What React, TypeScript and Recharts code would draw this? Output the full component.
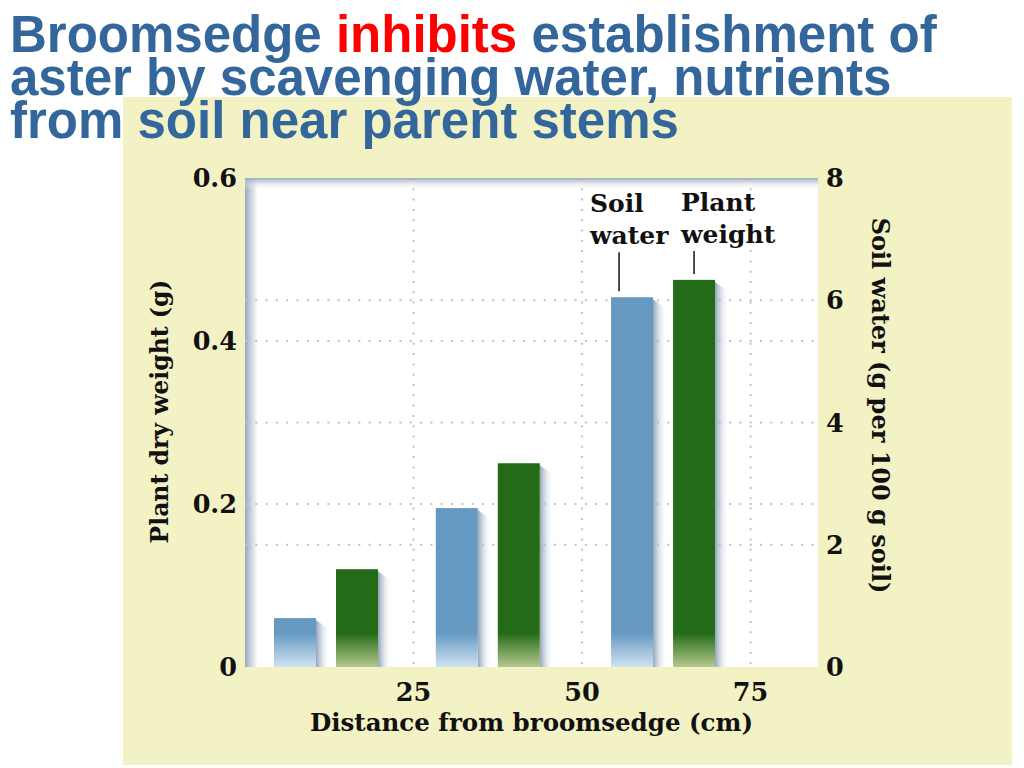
import { Bar, BarChart, CartesianGrid, Label, LabelList, XAxis, YAxis } from "recharts";

const distances = [12, 36, 62];
const soilWater = [0.8, 2.6, 6.05];
const plantWeight = [0.12, 0.25, 0.475];
const leftTicks = [0, 0.2, 0.4, 0.6];
const rightTicks = [0, 2, 4, 6, 8];
const xTicks = [25, 50, 75];

const data = distances.map((d, i) => ({
  distance: d,
  water: soilWater[i],
  plant: plantWeight[i],
}));

const SERIF = "'DejaVu Serif', serif";
const INK = "#111111";
const BLUE = "#6699c2";
const GREEN = "#246b17";
const CREAM = "#f2f2c4";

const tickStyle = { fill: INK, fontSize: 25.5, fontWeight: 700, fontFamily: SERIF };

function ShadedBar(props: any) {
  const { x, y, width, height, index, color, fade, name } = props;
  if (height == null || height <= 0) return null;
  const id = `fade-${name}-${index}`;
  const bottom = y + height;
  return (
    <g>
      <defs>
        <linearGradient id={id} gradientUnits="userSpaceOnUse" x1={0} y1={bottom - 34} x2={0} y2={bottom}>
          <stop offset="0%" stopColor={color} />
          <stop offset="100%" stopColor={fade} />
        </linearGradient>
      </defs>
      <path
        d={`M${x + width},${y + 2} L${x + width + 14},${y + 12} L${x + width + 14},${bottom} L${x + width},${bottom} Z`}
        fill="url(#barShadow)"
      />
      <rect x={x} y={y} width={width} height={height} fill={`url(#${id})`} />
    </g>
  );
}

function Callout(props: any) {
  const { x, y, index, lines, textDx, lineDx, top } = props;
  if (index !== 2) return null;
  const tx = x + textDx;
  const lx = x + lineDx;
  return (
    <g>
      <text x={tx} y={y - top} fill={INK} fontSize={25} fontWeight={700} fontFamily={SERIF}>
        {lines[0]}
      </text>
      <text x={tx} y={y - top + 32} fill={INK} fontSize={25} fontWeight={700} fontFamily={SERIF}>
        {lines[1]}
      </text>
      <line x1={lx} x2={lx} y1={y - top + 40} y2={y - 6} stroke={INK} strokeWidth={1.5} />
    </g>
  );
}

function SideTitle(props: any) {
  const { viewBox, text, dx, dy, angle, size } = props;
  const cx = viewBox.x + dx;
  const cy = viewBox.y + viewBox.height / 2 + dy;
  return (
    <text
      x={cx}
      y={cy}
      transform={`rotate(${angle} ${cx} ${cy})`}
      textAnchor="middle"
      dominantBaseline="central"
      fill={INK}
      fontSize={size}
      fontWeight={700}
      fontFamily={SERIF}
    >
      {text}
    </text>
  );
}

function BottomTitle(props: any) {
  const { viewBox } = props;
  return (
    <text
      x={viewBox.x + viewBox.width / 2}
      y={viewBox.y + 64}
      textAnchor="middle"
      fill={INK}
      fontSize={24.5}
      fontWeight={700}
      fontFamily={SERIF}
    >
      Distance from broomsedge (cm)
    </text>
  );
}

export default function App() {
  return (
    <div style={{ position: "absolute", left: 0, top: 0, width: 1024, height: 768, background: "#fff" }}>
      <div style={{ position: "absolute", left: 123, top: 97, width: 889, height: 668, background: CREAM }}>
        <BarChart
          width={889}
          height={668}
          data={data}
          barGap={20}
          margin={{ top: 81, right: 0, bottom: 0, left: 0 }}
        >
          <defs>
            <linearGradient id="leftShade" x1="0" y1="0" x2="1" y2="0">
              <stop offset="0%" stopColor="#98abc0" />
              <stop offset="2.2%" stopColor="#ffffff" />
              <stop offset="100%" stopColor="#ffffff" />
            </linearGradient>
            <linearGradient id="topShade" x1="0" y1="0" x2="0" y2="1">
              <stop offset="0%" stopColor="#98abc0" stopOpacity={1} />
              <stop offset="2.4%" stopColor="#ffffff" stopOpacity={0} />
              <stop offset="100%" stopColor="#ffffff" stopOpacity={0} />
            </linearGradient>
            <linearGradient id="barShadow" x1="0" y1="0" x2="1" y2="0">
              <stop offset="0%" stopColor="#8499b0" stopOpacity={0.9} />
              <stop offset="100%" stopColor="#ffffff" stopOpacity={0} />
            </linearGradient>
          </defs>
          <CartesianGrid
            yAxisId="left"
            fill="url(#leftShade)"
            fillOpacity={1}
            horizontalValues={[0.2, 0.4]}
            verticalValues={xTicks}
            stroke="#b8c3cd"
            strokeWidth={2}
            strokeDasharray="2 8.3"
          />
          <CartesianGrid
            yAxisId="right"
            fill="url(#topShade)"
            fillOpacity={1}
            vertical={false}
            horizontalValues={[2, 4, 6]}
            stroke="#b8c3cd"
            strokeWidth={2}
            strokeDasharray="2 8.3"
          />
          <XAxis
            dataKey="distance"
            type="number"
            domain={[0, 85]}
            ticks={xTicks}
            height={98}
            tickLine={false}
            axisLine={false}
            tickMargin={10}
            tick={tickStyle}
          >
            <Label content={(p: any) => <BottomTitle {...p} />} />
          </XAxis>
          <YAxis
            yAxisId="left"
            domain={[0, 0.6]}
            ticks={leftTicks}
            width={122}
            tickLine={false}
            axisLine={false}
            tick={tickStyle}
            tickFormatter={(v: number) => (v === 0 ? "0" : v.toFixed(1))}
          >
            <Label
              content={(p: any) => (
                <SideTitle {...p} text="Plant dry weight (g)" dx={37} dy={-11} angle={-90} size={23.5} />
              )}
            />
          </YAxis>
          <YAxis
            yAxisId="right"
            orientation="right"
            domain={[0, 8]}
            ticks={rightTicks}
            width={194}
            tickLine={false}
            axisLine={false}
            tick={tickStyle}
          >
            <Label
              content={(p: any) => (
                <SideTitle
                  {...p}
                  text="Soil water (g per 100 g soil)"
                  dx={62}
                  dy={-17}
                  angle={90}
                  size={24}
                />
              )}
            />
          </YAxis>
          <Bar
            dataKey="water"
            yAxisId="right"
            barSize={42}
            fill={BLUE}
            isAnimationActive={false}
            shape={(p: any) => <ShadedBar {...p} name="water" color={BLUE} fade="#cfe2f1" />}
          >
            <LabelList
              dataKey="water"
              content={(p: any) => (
                <Callout {...p} lines={["Soil", "water"]} textDx={-21} lineDx={8} top={85} />
              )}
            />
          </Bar>
          <Bar
            dataKey="plant"
            yAxisId="left"
            barSize={42}
            fill={GREEN}
            isAnimationActive={false}
            shape={(p: any) => <ShadedBar {...p} name="plant" color={GREEN} fade="#b4c98e" />}
          >
            <LabelList
              dataKey="plant"
              content={(p: any) => (
                <Callout {...p} lines={["Plant", "weight"]} textDx={8} lineDx={21} top={69} />
              )}
            />
          </Bar>
        </BarChart>
      </div>
      <div
        style={{
          position: "absolute",
          left: 10,
          top: 13,
          fontFamily: "'Liberation Sans', Arial, sans-serif",
          fontWeight: 700,
          fontSize: 51,
          lineHeight: "43px",
          color: "#33669a",
          whiteSpace: "nowrap",
        }}
      >
        <div>
          Broomsedge <span style={{ color: "#ff0000" }}>inhibits</span> establishment of
        </div>
        <div>aster by scavenging water, nutrients</div>
        <div>from soil near parent stems</div>
      </div>
    </div>
  );
}
